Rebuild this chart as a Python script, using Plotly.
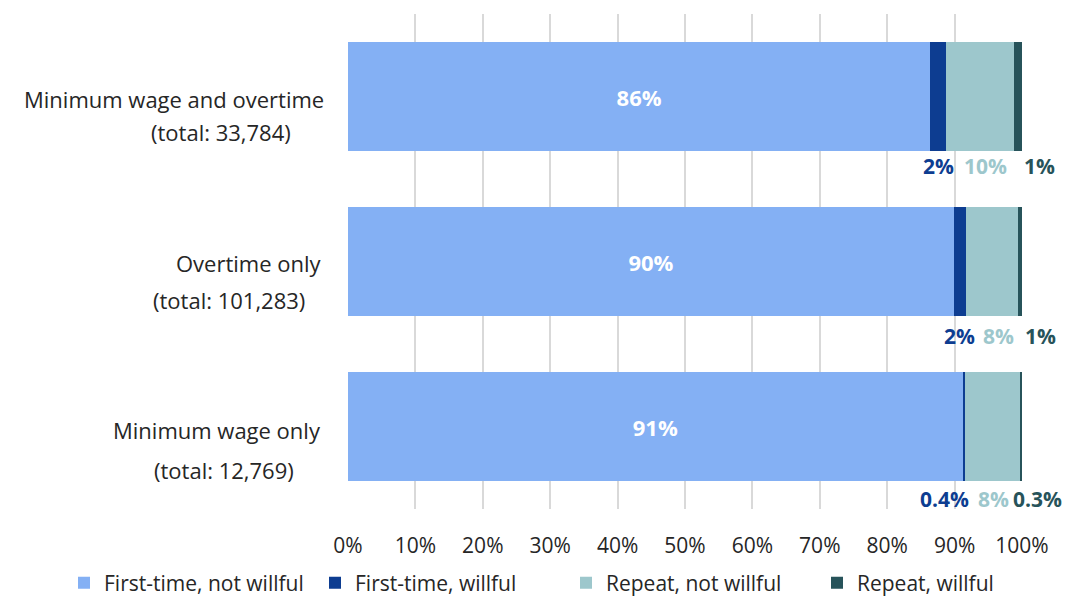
import plotly.graph_objects as go

# ---- data ----
categories = ["Minimum wage and overtime", "Overtime only", "Minimum wage only"]
label_line1 = ["Minimum wage and overtime", "Overtime only", "Minimum wage only"]
label_line2 = ["(total: 33,784)", "(total: 101,283)", "(total: 12,769)"]

series_names = ["First-time, not willful", "First-time, willful",
                "Repeat, not willful", "Repeat, willful"]
first_not_willful = [86.4, 89.9, 91.2]
first_willful = [2.3, 1.8, 0.4]
repeat_not_willful = [10.1, 7.7, 8.1]
repeat_willful = [1.2, 0.6, 0.3]

small_labels = [
    ["2%", "10%", "1%"],
    ["2%", "8%", "1%"],
    ["0.4%", "8%", "0.3%"],
]

x_ticks = list(range(0, 101, 10))

# ---- style ----
colors = ["#84B0F4", "#0D3D91", "#9DC7CC", "#27535A"]
label_colors = ["#0D3D91", "#9DC7CC", "#27535A"]
FONT = "Open Sans"
TEXT = "#262626"
# pixel nudges for the outside labels (per bar, per small segment)
lbl_xshift = [[0, 6, 22], [0, 6, 21], [-20, 1, 17]]
lbl_yshift = [-15, -20, -18]
cat_line_right = [[326, 293], [324, 307], [323, 296]]
cat_line_dy = [[-2, -35], [-1, -38], [-3, -43]]

PLOT_LEFT, PLOT_RIGHT, PLOT_TOP, PLOT_BOTTOM = 348, 1022, 14, 509
W, H = 1072, 606

series = [first_not_willful, first_willful, repeat_not_willful, repeat_willful]

fig = go.Figure()
for i, (name, vals) in enumerate(zip(series_names, series)):
    if i == 0:
        kw = dict(texttemplate="%{x:.0f}%", textposition="inside",
                  insidetextanchor="middle",
                  textfont=dict(color="white", size=22, family=FONT, weight="bold"))
    else:
        kw = dict(textposition="none")
    fig.add_trace(go.Bar(
        y=categories, x=vals, name=name, orientation="h",
        marker=dict(color=colors[i], line=dict(width=0)),
        hoverinfo="skip", **kw))

# outside labels for small segments
bargap = 0.335
for b, cat in enumerate(categories):
    cum = first_not_willful[b]
    small = [first_willful[b], repeat_not_willful[b], repeat_willful[b]]
    for s, v in enumerate(small):
        center = cum + v / 2
        cum += v
        fig.add_annotation(
            x=center, y=b + (1 - bargap) / 2, xref="x", yref="y",
            text=small_labels[b][s], showarrow=False,
            xanchor="center", yanchor="middle",
            xshift=lbl_xshift[b][s], yshift=lbl_yshift[b],
            font=dict(family=FONT, size=21, color=label_colors[s], weight="bold"))

# category labels (two lines)
for b in range(len(categories)):
    for ln, txt in enumerate([label_line1[b], label_line2[b]]):
        fig.add_annotation(
            x=0, y=b, xref="paper", yref="y", text=txt, showarrow=False,
            xanchor="right", yanchor="middle",
            xshift=-(PLOT_LEFT - cat_line_right[b][ln]),
            yshift=cat_line_dy[b][ln],
            font=dict(family=FONT, size=22, color=TEXT))

pw = PLOT_RIGHT - PLOT_LEFT
ph = PLOT_BOTTOM - PLOT_TOP
fig.update_layout(
    barmode="stack", bargap=bargap,
    width=W, height=H,
    margin=dict(l=PLOT_LEFT, r=W - PLOT_RIGHT, t=PLOT_TOP, b=H - PLOT_BOTTOM,
                autoexpand=False),
    plot_bgcolor="white", paper_bgcolor="white",
    font=dict(family=FONT, size=20, color=TEXT),
    showlegend=True,
    legend=dict(orientation="h", xref="paper", yref="paper",
                x=(64 - PLOT_LEFT) / pw, y=-(583 - PLOT_BOTTOM) / ph,
                xanchor="left", yanchor="middle",
                entrywidth=206, entrywidthmode="pixels",
                font=dict(family=FONT, size=21, color=TEXT),
                traceorder="normal", itemclick=False, itemdoubleclick=False),
    xaxis=dict(range=[0, 100], tickvals=x_ticks,
               ticktext=[f"{t}%" for t in x_ticks],
               showgrid=True, gridcolor="#D9D9D9", gridwidth=2,
               zeroline=False, showline=False, ticks="",
               ticklabelstandoff=22, automargin=False,
               tickfont=dict(family=FONT, size=21, color=TEXT)),
    yaxis=dict(autorange="reversed", showticklabels=False, showgrid=False,
               zeroline=False, showline=False, ticks="", automargin=False),
)

fig.write_html("out.html")
